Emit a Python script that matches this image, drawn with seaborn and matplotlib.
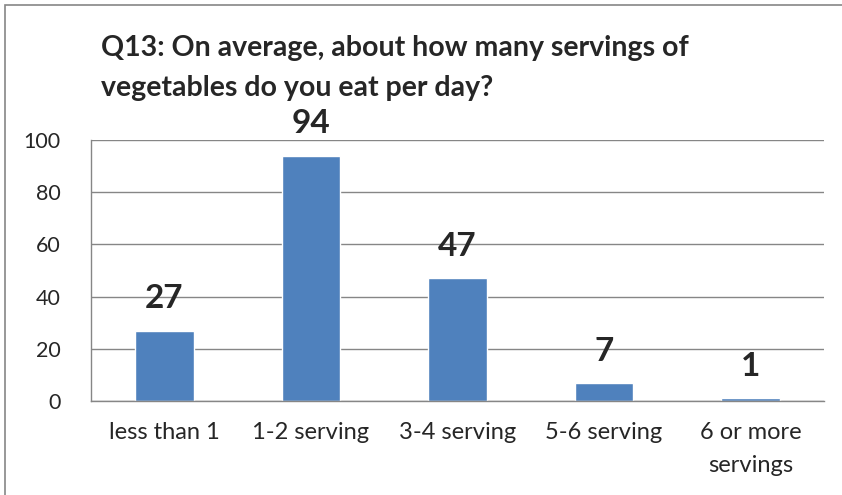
import matplotlib
matplotlib.use("Agg")
import matplotlib.pyplot as plt
import seaborn as sns
import pandas as pd
from matplotlib.patches import Rectangle

categories = ["less than 1", "1-2 serving", "3-4 serving", "5-6 serving", "6 or more\nservings"]
values = [27, 94, 47, 7, 1]
yticks = [0, 20, 40, 60, 80, 100]
title_lines = ["Q13: On average, about how many servings of", "vegetables do you eat per day?"]

sns.set_style("white")
plt.rcParams['font.family'] = ['Lato', 'DejaVu Sans']

df = pd.DataFrame({"cat": categories, "val": values})
W, H = 842, 495
fig = plt.figure(figsize=(W/100, H/100), dpi=100)
ax = fig.add_axes([91/W, 1-401/H, (824-91)/W, (401-140)/H])
sns.barplot(data=df, x="cat", y="val", color="#4F81BD", saturation=1, width=0.4, ax=ax)
ax.set_xlim(-0.5, 4.5)
ax.set_ylim(0, 100)
ax.set_yticks(yticks)
ax.yaxis.grid(True, color="#868686", linewidth=1)
ax.set_axisbelow(True)
ax.set_xlabel("")
ax.set_ylabel("")
for s in ["top", "right"]:
    ax.spines[s].set_visible(False)
for s in ["left", "bottom"]:
    ax.spines[s].set_color("#868686")
    ax.spines[s].set_linewidth(1)
ax.tick_params(axis="y", length=8, width=1, color="#868686", labelsize=15.5, pad=14)
ax.tick_params(axis="x", length=0, labelsize=17, pad=15)
ax.set_xticks(range(5))
ax.set_xticklabels(categories, linespacing=1.7)
ax.set_xticks([i - 0.5 for i in range(6)], minor=True)
ax.tick_params(axis="x", which="minor", length=8, width=1, color="#868686")
for b, v in zip(ax.patches, values):
    ax.annotate(str(v), (b.get_x() + b.get_width()/2, v), xytext=(0, 16),
                textcoords="offset points", ha="center", va="baseline",
                fontsize=24, fontweight="bold")
fig.text(101/W, 1-48/H, title_lines[0], ha="left", va="center",
         fontsize=20.5, fontweight="bold")
fig.text(101/W, 1-88/H, title_lines[1], ha="left", va="center",
         fontsize=20.5, fontweight="bold")
fig.patches.append(Rectangle((5/W, -0.1), 1.2, 1-5/H+0.1, transform=fig.transFigure,
                             fill=False, edgecolor="#868686", linewidth=1.2))
fig.savefig("out.png", dpi=100)
